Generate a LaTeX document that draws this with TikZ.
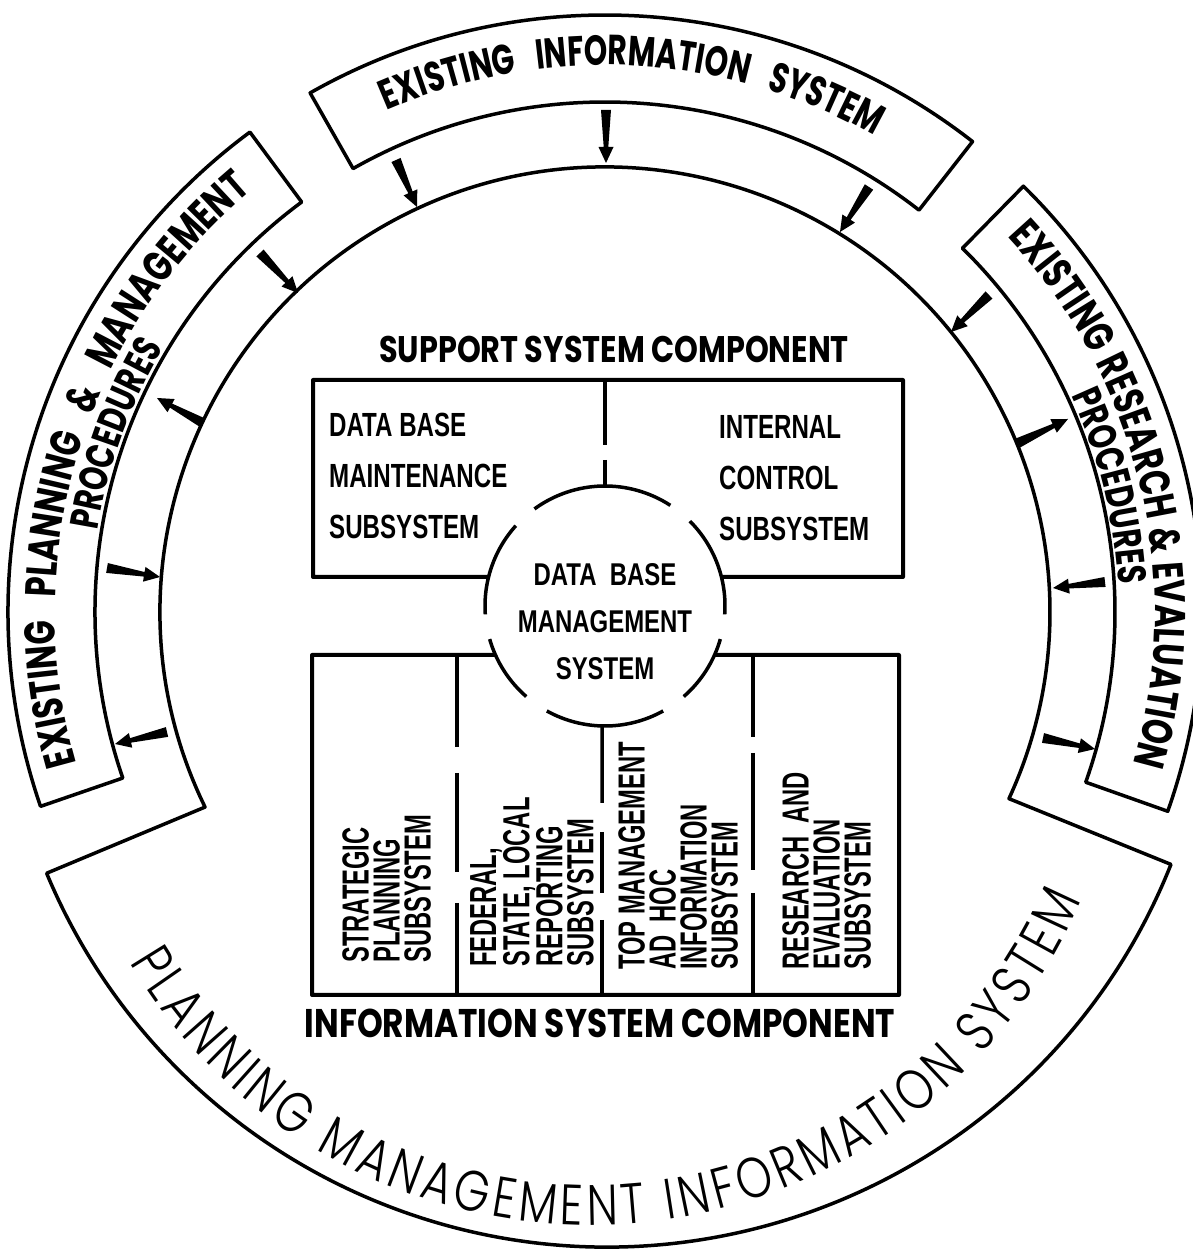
\documentclass[tikz,border=0pt]{standalone}
\usepackage{fontspec}
\usetikzlibrary{calc,decorations.text}
\newfontfamily\headfont[FakeStretch=0.82]{Poppins}
\newfontfamily\lblfont[FakeStretch=0.74]{Poppins}
\newfontfamily\topfont[FakeStretch=0.71]{Poppins}
\newfontfamily\ringfont[FakeStretch=0.80]{Poppins Light}
\newfontfamily\condfont[FakeStretch=0.72]{Liberation Sans}
\newfontfamily\dbmsfont[FakeStretch=0.76]{Liberation Sans}
\newfontfamily\colfont[FakeStretch=0.63]{Liberation Sans}
\newcommand\wedgearrow[2]{%
  \fill ($(#1)!5pt!90:(#2)$) -- ($(#2)!16pt!(#1)!2.3pt!90:(#2)$) -- ($(#2)!16pt!(#1)!7.5pt!90:(#2)$) -- (#2) -- ($(#2)!16pt!(#1)!7.5pt!-90:(#2)$) -- ($(#2)!16pt!(#1)!2.3pt!-90:(#2)$) -- ($(#1)!5pt!-90:(#2)$) -- cycle;}
\begin{document}
\begin{tikzpicture}[x=1pt,y=1pt,line join=round,
  rim/.style={line width=3.5pt},
  sector/.style={line width=3.5pt},
  rect/.style={line width=4pt},
  divider/.style={line width=3.5pt},
  dbmsarc/.style={line width=3.5pt},
  inlbl/.style={inner sep=0pt, align=left, font=\condfont\bfseries\fontsize{33.5}{51}\selectfont},
  collbl/.style={inner sep=0pt, align=left, rotate=90, anchor=north west, font=\colfont\bfseries\fontsize{37.7}{31}\selectfont},
  heading/.style={inner sep=0pt, anchor=base, font=\headfont\bfseries\fontsize{37}{40}\selectfont},
]
\useasboundingbox (0,0) rectangle (1193,1254);
\coordinate (C1) at (605,642);
\coordinate (C2) at (607,614);
\coordinate (C3) at (590,563);
\coordinate (C4) at (605,648);

% outline of the whole system
\draw[rim] ($(C1)+(206:445)$) coordinate (nL) arc[start angle=206,end angle=-24.8,radius=445] coordinate (nR)
  -- ($(C2)+(-21.7:607)$) coordinate (oR) arc[start angle=-21.7,end angle=-157.4,radius=607] coordinate (oL) -- cycle;

% three sector boxes
\draw[sector] ($(C1)+(52:510)$) arc[start angle=52,end angle=119.6,radius=510] -- ($(C1)+(119.6:597)$) arc[start angle=119.6,end angle=52,radius=597] -- cycle;
\draw[sector] ($(C1)+(126.5:510)$) arc[start angle=126.5,end angle=199,radius=510] -- ($(C1)+(199:597)$) arc[start angle=199,end angle=126.5,radius=597] -- cycle;
\draw[sector] ($(C1)+(-19.5:510)$) arc[start angle=-19.5,end angle=45.5,radius=510] -- ($(C1)+(45.5:597)$) arc[start angle=45.5,end angle=-19.5,radius=597] -- cycle;

% curved labels
\path[decorate,decoration={text along path,text align=fit to path stretching spaces,
  text={|\topfont\bfseries\fontsize{42}{42}\selectfont|EXISTING INFORMATION SYSTEM}}]
  ($(C1)+(113.5:547)$) arc[start angle=113.5,end angle=60.5,radius=547];
\path[decorate,decoration={text along path,text align=fit to path stretching spaces,
  text={|\lblfont\bfseries\fontsize{43}{43}\selectfont|EXISTING PLANNING {\&} MANAGEMENT}}]
  ($(C1)+(196:550)$) arc[start angle=196,end angle=130,radius=550];
\path[decorate,decoration={text along path,text align=center,
  text={|\lblfont\bfseries\fontsize{40}{40}\selectfont|PROCEDURES}}]
  ($(C1)+(178:514)$) arc[start angle=178,end angle=142,radius=514];
\path[decorate,decoration={text along path,text align=fit to path stretching spaces,
  text={|\lblfont\bfseries\fontsize{43}{43}\selectfont|EXISTING RESEARCH {\&} EVALUATION}}]
  ($(C1)+(43:550)$) arc[start angle=43,end angle=-16,radius=550];
\path[decorate,decoration={text along path,text align=center,
  text={|\lblfont\bfseries\fontsize{40}{40}\selectfont|PROCEDURES}}]
  ($(C1)+(32:514)$) arc[start angle=32,end angle=-4,radius=514];
\path[decorate,decoration={text along path,text align=fit to path,
  text={|\ringfont\fontsize{57}{57}\selectfont|PLANNING MANAGEMENT INFORMATION SYSTEM}}]
  ($(C3)+(210.5:534)$) arc[start angle=210.5,end angle=337,radius=534];

% arrows between boxes and the system
\coordinate (t1) at (396,1094); \coordinate (h1) at (417,1047);
\coordinate (t2) at (606,1144); \coordinate (h2) at (606,1091);
\coordinate (t3) at (869,1067); \coordinate (h3) at (840,1022);
\coordinate (t4) at (260,1001); \coordinate (h4) at (298,961);
\coordinate (t5) at (203,831);  \coordinate (h5) at (157,856);
\coordinate (t6) at (107,686);  \coordinate (h6) at (160,677);
\coordinate (t7) at (167,522);  \coordinate (h7) at (115,510);
\coordinate (t8) at (989,959);  \coordinate (h8) at (951,922);
\coordinate (t9) at (1018,811); \coordinate (h9) at (1068,835);
\coordinate (t10) at (1105,672); \coordinate (h10) at (1053,666);
\coordinate (t11) at (1043,516); \coordinate (h11) at (1095,505);
\foreach \i in {1,...,11} {\wedgearrow{t\i}{h\i}}

% support system component
\coordinate (sbL) at ($(C4)+(166:120)$);
\coordinate (sbR) at ($(C4)+(14:120)$);
\draw[rect] (sbL) -- (313,677) -- (313,874) -- (903,874) -- (903,677) -- (sbR);
\draw[divider] (605,874) -- (605,809);
\draw[divider] (605,794) -- ($(C4)+(90:120)$);

% information system component
\coordinate (ibL) at ($(C4)+(204.1:120)$);
\coordinate (ibR) at ($(C4)+(-24.1:120)$);
\draw[rect] (ibL) -- (312,599) -- (312,259) -- (899,259) -- (899,599) -- (ibR);
\draw[divider] (457,599) -- (457,507); \draw[divider] (457,481) -- (457,382); \draw[divider] (457,351) -- (457,259);
\draw[divider] ($(C4)+(-91.4:120)$) -- (602,451); \draw[divider] (602,422) -- (602,361); \draw[divider] (602,334) -- (602,259);
\draw[divider] (753,599) -- (753,517); \draw[divider] (753,501) -- (753,384); \draw[divider] (753,361) -- (753,259);

% data base management system circle
\foreach \a/\b in {57/126,138/184,196/229,241/299,311/344,356/405}
  {\draw[dbmsarc] ($(C4)+(\a:120)$) arc[start angle=\a,end angle=\b,radius=120];}

% texts
\node[heading] (sscT) at (614,891) {SUPPORT SYSTEM COMPONENT};
\node[heading, font=\headfont\bfseries\fontsize{40}{42}\selectfont] (iscT) at (600,216) {INFORMATION SYSTEM COMPONENT};
\node[inlbl, anchor=north west] (dbmT) at (329,841) {DATA BASE\\MAINTENANCE\\SUBSYSTEM};
\node[inlbl, anchor=north west] (icsT) at (719,839) {INTERNAL\\CONTROL\\SUBSYSTEM};
\node[inlbl, align=center, anchor=north, font=\dbmsfont\bfseries\fontsize{31.5}{47}\selectfont] (dbmsT) at (605,691) {DATA\ \ BASE\\MANAGEMENT\\SYSTEM};
\node[collbl] (c1) at (342,291) {STRATEGIC\\PLANNING\\SUBSYSTEM};
\node[collbl] (c2) at (470,287) {FEDERAL,\\STATE, LOCAL\\REPORTING\\SUBSYSTEM};
\node[collbl] (c3) at (618,284) {TOP MANAGEMENT\\AD\ \ HOC\\INFORMATION\\SUBSYSTEM};
\node[collbl] (c4) at (782,284) {RESEARCH\ \ AND\\EVALUATION\\SUBSYSTEM};
\end{tikzpicture}
\end{document}
